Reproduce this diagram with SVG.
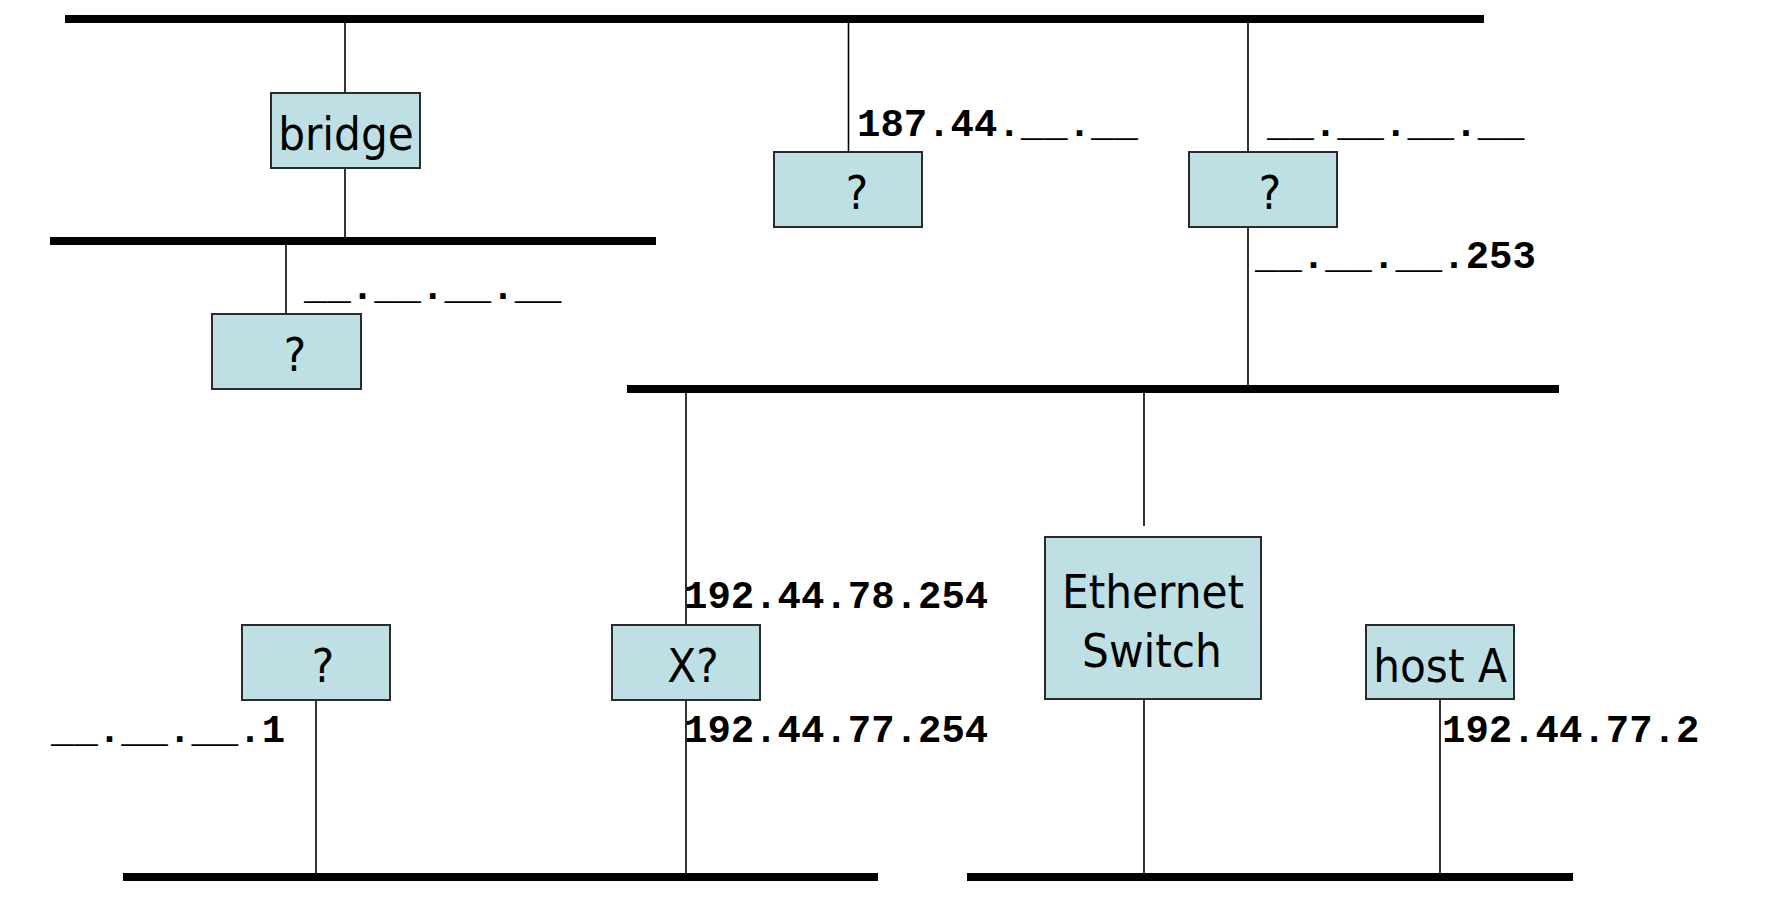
<svg xmlns="http://www.w3.org/2000/svg" width="1778" height="912" viewBox="0 0 1778 912">
<style>
.bus{stroke:#000;stroke-width:8;fill:none}
.wire{stroke:#000;stroke-width:1.6;fill:none}
.box{fill:#bee0e4;stroke:#2b2b2b;stroke-width:2}
.lbl{font-family:"DejaVu Sans Condensed","DejaVu Sans",Verdana,sans-serif;font-stretch:condensed;font-size:47px;fill:#000;text-anchor:middle}
.ip{font-family:"Liberation Mono","Courier New",monospace;font-size:39px;font-weight:bold;fill:#000}
</style>
<rect width="1778" height="912" fill="#fff"/>
<g id="connectors">
<line class="bus" x1="65" y1="19" x2="1484" y2="19"/>
<line class="bus" x1="50" y1="241" x2="656" y2="241"/>
<line class="bus" x1="627" y1="389" x2="1559" y2="389"/>
<line class="bus" x1="123" y1="877" x2="878" y2="877"/>
<line class="bus" x1="967" y1="877" x2="1573" y2="877"/>
<line class="wire" x1="345" y1="19" x2="345" y2="93"/>
<line class="wire" x1="345" y1="168" x2="345" y2="241"/>
<line class="wire" x1="286" y1="241" x2="286" y2="314"/>
<line class="wire" x1="848.5" y1="19" x2="848.5" y2="152"/>
<line class="wire" x1="1248" y1="19" x2="1248" y2="152"/>
<line class="wire" x1="1248" y1="227" x2="1248" y2="389"/>
<line class="wire" x1="686" y1="389" x2="686" y2="625"/>
<line class="wire" x1="686" y1="700" x2="686" y2="877"/>
<line class="wire" x1="316" y1="700" x2="316" y2="877"/>
<line class="wire" x1="1144" y1="389" x2="1144" y2="526"/>
<line class="wire" x1="1144" y1="699" x2="1144" y2="877"/>
<line class="wire" x1="1440" y1="699" x2="1440" y2="877"/>
</g>
<g id="bridge">
<rect class="box" x="271" y="93" width="149" height="75"/>
<text class="lbl" x="346" y="150">bridge</text>
</g>
<g id="node-left">
<rect class="box" x="212" y="314" width="149" height="75"/>
<text class="lbl" x="295" y="371">?</text>
<text class="ip" x="304" y="299">__.__.__.__</text>
</g>
<g id="node-top-mid">
<rect class="box" x="774" y="152" width="148" height="75"/>
<text class="lbl" x="857" y="209">?</text>
<text class="ip" x="857" y="136">187.44.__.__</text>
</g>
<g id="node-top-right">
<rect class="box" x="1189" y="152" width="148" height="75"/>
<text class="lbl" x="1270" y="209">?</text>
<text class="ip" x="1267" y="136">__.__.__.__</text>
<text class="ip" x="1255" y="268">__.__.__.253</text>
</g>
<g id="node-bottom-left">
<rect class="box" x="242" y="625" width="148" height="75"/>
<text class="lbl" x="323" y="682">?</text>
<text class="ip" x="51" y="742">__.__.__.1</text>
</g>
<g id="router-x">
<rect class="box" x="612" y="625" width="148" height="75"/>
<text class="lbl" x="693" y="682">X?</text>
<text class="ip" x="684" y="608">192.44.78.254</text>
<text class="ip" x="684" y="742">192.44.77.254</text>
</g>
<g id="ethernet-switch">
<rect class="box" x="1045" y="537" width="216" height="162"/>
<text class="lbl" x="1153" y="608">Ethernet</text>
<text class="lbl" x="1152" y="667">Switch</text>
</g>
<g id="host-a">
<rect class="box" x="1366" y="625" width="148" height="74"/>
<text class="lbl" x="1440" y="682">host A</text>
<text class="ip" x="1442" y="742">192.44.77.2</text>
</g>
</svg>
